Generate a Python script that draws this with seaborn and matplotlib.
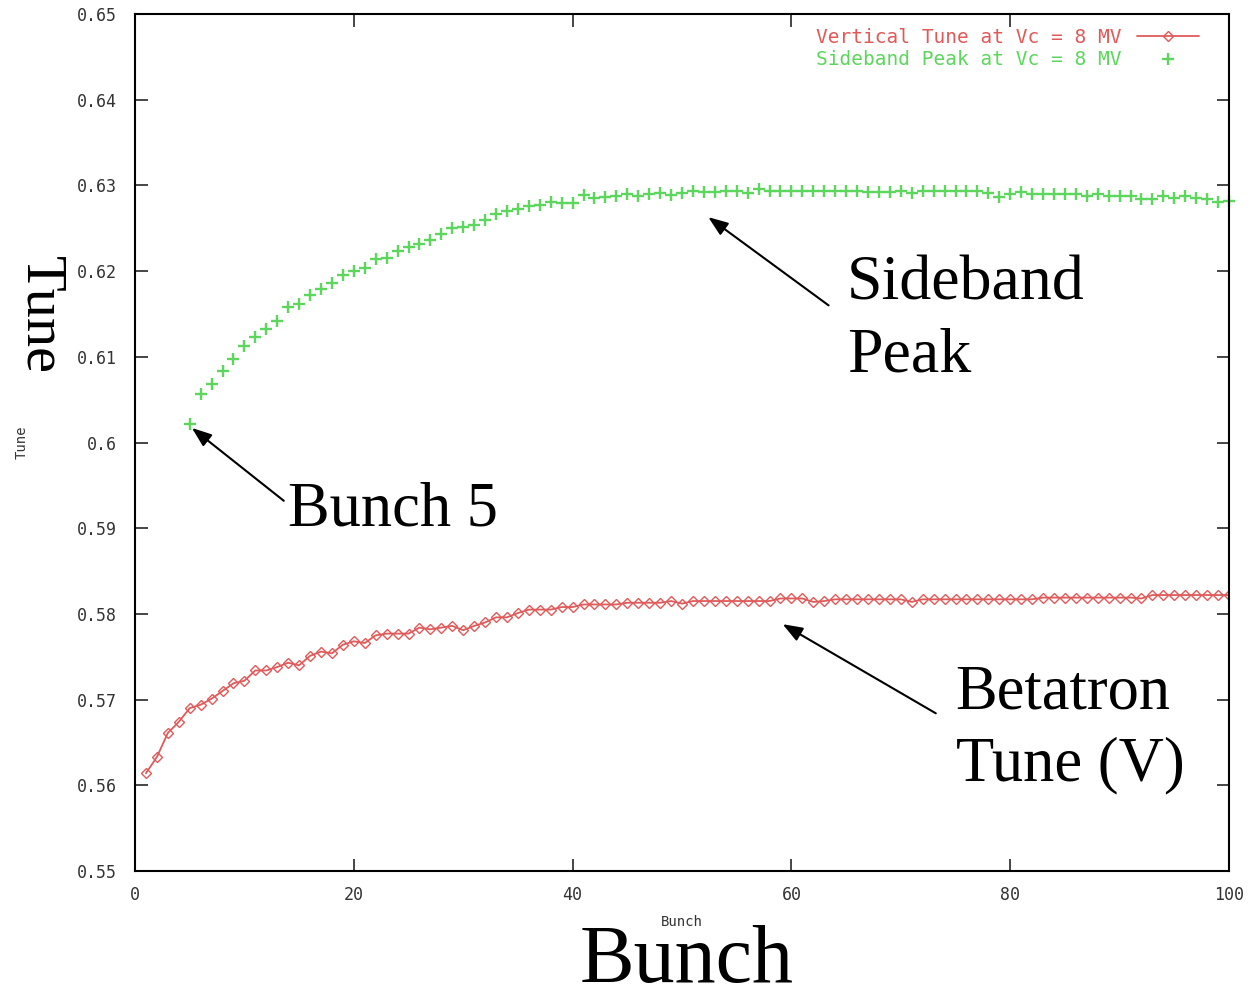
import numpy as np
import pandas as pd
import matplotlib
matplotlib.use("Agg")
import matplotlib.pyplot as plt
import seaborn as sns

# bunch numbers and measured tunes
betatron_bunch = list(range(1, 101))
betatron_tune = [
    0.5614, 0.5633, 0.5661, 0.5674, 0.5690, 0.5694, 0.5701, 0.5710, 0.5719, 0.5722,
    0.5734, 0.5734, 0.5738, 0.5743, 0.5740, 0.5751, 0.5756, 0.5754, 0.5764, 0.5768,
    0.5766, 0.5775, 0.5777, 0.5777, 0.5777, 0.5784, 0.5782, 0.5784, 0.5786, 0.5781,
    0.5786, 0.5790, 0.5796, 0.5796, 0.5801, 0.5805, 0.5805, 0.5805, 0.5808, 0.5808,
    0.5811, 0.5811, 0.5811, 0.5811, 0.5813, 0.5813, 0.5813, 0.5813, 0.5815, 0.5812,
    0.5815, 0.5815, 0.5815, 0.5815, 0.5815, 0.5815, 0.5815, 0.5815, 0.5818, 0.5818,
    0.5818, 0.5814, 0.5815, 0.5817, 0.5817, 0.5817, 0.5817, 0.5817, 0.5817, 0.5817,
    0.5814, 0.5817, 0.5817, 0.5817, 0.5817, 0.5817, 0.5817, 0.5817, 0.5817, 0.5817,
    0.5817, 0.5817, 0.5819, 0.5819, 0.5819, 0.5819, 0.5819, 0.5819, 0.5819, 0.5819,
    0.5819, 0.5818, 0.5822, 0.5822, 0.5822, 0.5822, 0.5822, 0.5822, 0.5822, 0.5822,
]

sideband_bunch = list(range(5, 101))
sideband_tune = [
    0.6022, 0.6057, 0.6068, 0.6083, 0.6098, 0.6113, 0.6123, 0.6132, 0.6142, 0.6158,
    0.6162, 0.6172, 0.6179, 0.6186, 0.6195, 0.6200, 0.6204, 0.6214, 0.6215, 0.6223,
    0.6228, 0.6232, 0.6236, 0.6243, 0.6250, 0.6252, 0.6254, 0.6260, 0.6267, 0.6270,
    0.6272, 0.6276, 0.6277, 0.6281, 0.6279, 0.6280, 0.6289, 0.6285, 0.6287, 0.6288,
    0.6290, 0.6288, 0.6290, 0.6291, 0.6289, 0.6291, 0.6293, 0.6292, 0.6292, 0.6293,
    0.6293, 0.6291, 0.6296, 0.6293, 0.6293, 0.6293, 0.6293, 0.6293, 0.6293, 0.6293,
    0.6293, 0.6293, 0.6292, 0.6292, 0.6292, 0.6293, 0.6291, 0.6293, 0.6293, 0.6293,
    0.6293, 0.6293, 0.6293, 0.6291, 0.6287, 0.6290, 0.6292, 0.6290, 0.6290, 0.6290,
    0.6290, 0.6290, 0.6288, 0.6290, 0.6288, 0.6288, 0.6288, 0.6284, 0.6284, 0.6288,
    0.6285, 0.6288, 0.6285, 0.6284, 0.6281, 0.6282,
]

betatron_label = "Vertical Tune at Vc = 8 MV"
sideband_label = "Sideband Peak at Vc = 8 MV"
x_ticks = [0, 20, 40, 60, 80, 100]
y_ticks = [0.55, 0.56, 0.57, 0.58, 0.59, 0.6, 0.61, 0.62, 0.63, 0.64, 0.65]
y_ticklabels = ["0.55", "0.56", "0.57", "0.58", "0.59", "0.6", "0.61", "0.62", "0.63", "0.64", "0.65"]

red = "#e05a5a"
green = "#5cd65c"
mono = "DejaVu Sans Mono"
serif = "Liberation Serif"

sns.set_style("ticks")
plt.rcParams["font.family"] = ["DejaVu Sans"]

betatron_df = pd.DataFrame({"Bunch": betatron_bunch, "Tune": betatron_tune})
sideband_df = pd.DataFrame({"Bunch": sideband_bunch, "Tune": sideband_tune})

fig = plt.figure(figsize=(12.53, 10.02), dpi=100)
ax = fig.add_axes([135 / 1253, 1 - 871 / 1002, (1229 - 135) / 1253, (871 - 14) / 1002])

sns.lineplot(data=betatron_df, x="Bunch", y="Tune", ax=ax, color=red, linewidth=1.3,
             marker="D", markersize=5.5, markerfacecolor="none", markeredgecolor=red,
             markeredgewidth=1.0, label=betatron_label)
sns.scatterplot(data=sideband_df, x="Bunch", y="Tune", ax=ax, color=green, marker="+",
                s=70, linewidth=1.7, label=sideband_label, clip_on=False)

ax.set_xlim(0, 100)
ax.set_ylim(0.55, 0.65)
ax.set_xticks(x_ticks)
ax.set_xticklabels([str(t) for t in x_ticks], family=mono, fontsize=12, color="#333333")
ax.set_yticks(y_ticks)
ax.set_yticklabels(y_ticklabels, family=mono, fontsize=12, color="#333333")
ax.tick_params(direction="in", length=9, width=1.2, top=True, right=True, pad=13)
ax.tick_params(axis="x", pad=11)
for sp in ax.spines.values():
    sp.set_linewidth(1.5)
    sp.set_color("black")

ax.set_xlabel("Bunch", family=mono, fontsize=10, color="#333333", labelpad=8)
ax.set_ylabel("Tune", family=mono, fontsize=10, color="#333333", labelpad=35)

leg = ax.legend(loc="upper right", frameon=False, markerfirst=False,
                prop={"family": mono, "size": 14}, handlelength=3.2,
                borderaxespad=0.3, labelspacing=0.15, bbox_to_anchor=(0.985, 1.0))
for txt, col in zip(leg.get_texts(), [red, green]):
    txt.set_color(col)

# big annotations
big = dict(family=serif, color="black")
arrow = dict(arrowstyle="-|>,head_length=1.2,head_width=0.45", color="black", lw=1.5,
             shrinkA=0, shrinkB=0)
ax.annotate("", xy=(52.4, 0.6263), xytext=(63.4, 0.6160), arrowprops=arrow)
ax.annotate("", xy=(5.2, 0.6017), xytext=(13.6, 0.5932), arrowprops=arrow)
ax.annotate("", xy=(59.2, 0.5788), xytext=(73.2, 0.5684), arrowprops=arrow)

ax.text(65.1, 0.6218, "Sideband\nPeak", fontsize=46, va="top", ha="left",
        linespacing=1.32, **big)
ax.text(14.0, 0.5955, "Bunch 5", fontsize=45, va="top", ha="left", **big)
ax.text(75.0, 0.5741, "Betatron\nTune (V)", fontsize=45, va="top", ha="left",
        linespacing=1.32, **big)

fig.text(687 / 1253, 0.002, "Bunch", fontsize=59, ha="center", va="bottom", **big)
fig.text(40 / 1253, 1 - 315 / 1002, "Tune", fontsize=42, ha="center", va="center",
         rotation=270, **big)

fig.savefig("out.png", dpi=100, facecolor="white")
